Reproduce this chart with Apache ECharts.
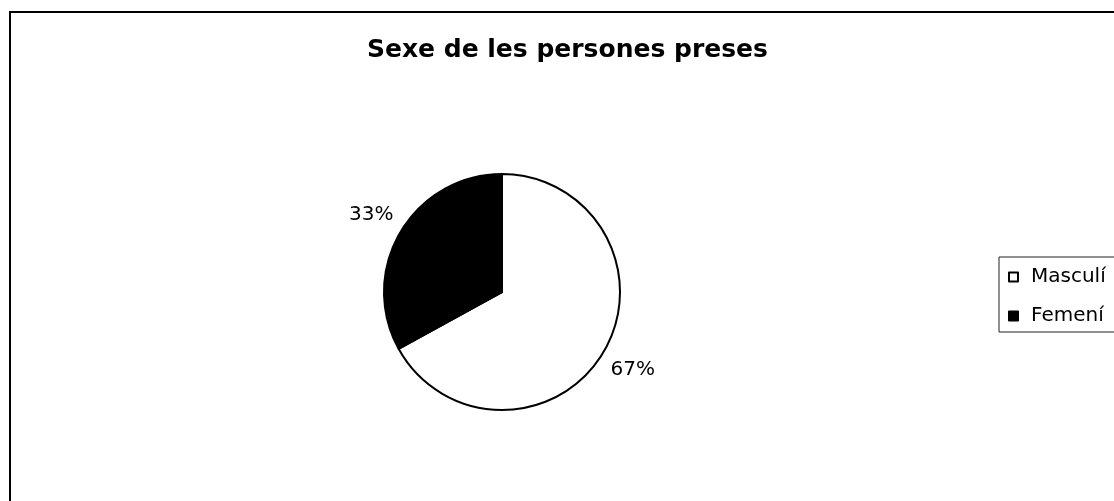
<!DOCTYPE html>
<html>
<head>
<meta charset="utf-8">
<script src="https://cdn.jsdelivr.net/npm/echarts@6/dist/echarts.min.js"></script>
<style>
  html, body { margin: 0; padding: 0; background: #fff; }
  #chart { width: 1114px; height: 501px; }
</style>
</head>
<body>
<div id="chart"></div>
<script>
// Sex of the people taken into custody (percent of total)
const categories = ['Masculí', 'Femení'];
const shares = [67, 33];
const sliceColors = ['#ffffff', '#000000'];
const chartTitle = 'Sexe de les persones preses';

const FONT = 'DejaVu Sans';

const chart = echarts.init(document.getElementById('chart'), null, { renderer: 'canvas' });

chart.setOption({
  backgroundColor: '#ffffff',
  animation: false,
  title: {
    text: chartTitle,
    left: 367,
    top: 38,
    padding: 0,
    textStyle: { fontFamily: FONT, fontWeight: 'bold', fontSize: 25, color: '#000' }
  },
  // chart-area frame
  graphic: [{
    type: 'rect',
    silent: true,
    shape: { x: 10, y: 12, width: 1200, height: 600 },
    style: { fill: 'none', stroke: '#000', lineWidth: 2 }
  }],
  legend: {
    orient: 'vertical',
    left: 999,
    top: 257,
    padding: [10, 30, 6, 9],
    itemWidth: 9,
    itemHeight: 9,
    itemGap: 19,
    borderColor: '#222',
    borderWidth: 1,
    icon: 'rect',
    textStyle: { fontFamily: FONT, fontSize: 20, lineHeight: 20, color: '#000', padding: [0, 0, 0, 8] },
    data: categories
  },
  series: [{
    type: 'pie',
    center: [502, 292],
    radius: 118,
    startAngle: 90,
    clockwise: true,
    avoidLabelOverlap: false,
    itemStyle: { borderColor: '#000', borderWidth: 2 },
    label: {
      show: true,
      position: 'outside',
      formatter: '{c}%',
      fontFamily: FONT,
      fontSize: 20,
      color: '#000',
      distanceToLabelLine: 0
    },
    labelLine: { show: false, length: 34, length2: 0 },
    labelLayout: function () { return { align: 'center', verticalAlign: 'middle' }; },
    emphasis: { disabled: true },
    data: categories.map((name, i) => ({
      name: name,
      value: shares[i],
      itemStyle: { color: sliceColors[i] }
    }))
  }]
});
</script>
</body>
</html>
